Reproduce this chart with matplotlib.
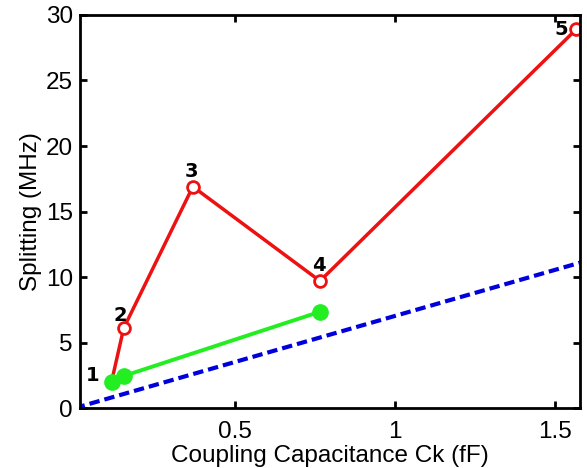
import matplotlib
matplotlib.use('Agg')
import matplotlib.pyplot as plt

# coupling capacitance (fF) vs splitting (MHz)
red_x = [0.115, 0.153, 0.369, 0.766, 1.566]
red_y = [2.0, 6.1, 16.9, 9.7, 28.9]
green_x = [0.115, 0.153, 0.766]
green_y = [2.0, 2.45, 7.35]
blue_x = [0.0, 1.6]
blue_y = [0.0, 11.25]
point_labels = ['1', '2', '3', '4', '5']

plt.rcParams['font.family'] = ['Liberation Sans', 'DejaVu Sans']

fig = plt.figure(figsize=(5.87, 4.68), dpi=100)
ax = fig.add_axes([0.136, 0.128, 0.852, 0.840])

ax.plot(blue_x, blue_y, '--', color='#0000dd', lw=3, dashes=(2.5, 1.2))
ax.plot(red_x, red_y, '-o', color='#ee1111', lw=2.5, ms=8.5, mfc='white', mec='#ee1111', mew=2)
ax.plot(green_x, green_y, '-o', color='#22ee22', lw=2.8, ms=11, mec='#22ee22')

offsets = [(-0.06, 0.45), (-0.012, 1.0), (-0.005, 1.15), (-0.002, 1.2), (-0.045, 0.0)]
for lab, x, y, (dx, dy) in zip(point_labels, red_x, red_y, offsets):
    ax.text(x + dx, y + dy, lab, fontsize=14, fontweight='bold', ha='center', va='center',
            family='DejaVu Sans')

ax.set_xlim(0.016, 1.578)
ax.set_ylim(0, 30)
ax.set_xticks([0.5, 1, 1.5])
ax.set_xticklabels(['0.5', '1', '1.5'])
ax.set_yticks(range(0, 31, 5))
ax.tick_params(direction='in', length=5, width=2, labelsize=17.5, pad=5,
               top=True, right=True)
ax.tick_params(axis='x', pad=9)
for s in ax.spines.values():
    s.set_linewidth(2)
ax.set_xlabel('Coupling Capacitance Ck (fF)', fontsize=17.5, labelpad=2)
ax.set_ylabel('Splitting (MHz)', fontsize=17.5, labelpad=3)

fig.savefig('out.png', dpi=100)
